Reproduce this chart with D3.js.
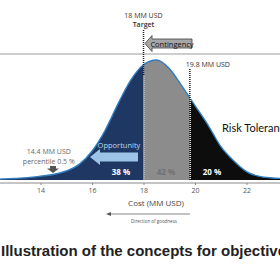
<!DOCTYPE html>
<html>
<head>
<meta charset="utf-8">
<script src="https://cdn.jsdelivr.net/npm/d3@7"></script>
<style>
  body { margin: 0; background: #fff; }
  svg { display: block; font-family: "Open Sans", "DejaVu Sans", sans-serif; }
</style>
</head>
<body>
<div id="chart"></div>
<script>
// cost values (MM USD) and relative density
const cost = [12, 12.5, 13, 13.5, 14, 14.5, 15, 15.5, 16, 16.5, 17, 17.5, 18, 18.5, 19, 19.5, 20, 20.5, 21, 21.5, 22, 22.5, 23, 23.5, 24];
const density = [0.004, 0.008, 0.013, 0.02, 0.032, 0.046, 0.075, 0.13, 0.24, 0.41, 0.63, 0.83, 0.96, 1.0, 0.93, 0.78, 0.62, 0.46, 0.28, 0.16, 0.07, 0.03, 0.017, 0.012, 0.01];
const xTicks = [14, 16, 18, 20, 22];
const target = 18;
const riskLimit = 19.8;
const lowLimit = 14.4;
const shares = ["38 %", "42 %", "20 %"];

const W = 280, H = 280;
const base = 180;

const svg = d3.select("#chart").append("svg")
    .attr("width", W)
    .attr("height", H);

const x = d3.scaleLinear()
    .domain([18 - 143.5 / 25.75, 18 + (W - 143.5) / 25.75])
    .range([0, W]);

const y = d3.scaleLinear()
    .domain([0, 1])
    .range([base, 60]);

const data = cost.map((c, i) => ({ c: c, h: density[i] }));

const area = d3.area()
    .x(d => x(d.c))
    .y0(base)
    .y1(d => y(d.h))
    .curve(d3.curveMonotoneX);

const line = d3.line()
    .x(d => x(d.c))
    .y(d => y(d.h))
    .curve(d3.curveMonotoneX);

// top separator line
svg.append("line")
    .attr("x1", 0).attr("x2", W)
    .attr("y1", 54).attr("y2", 54)
    .style("stroke", "#9a9a9a")
    .style("stroke-width", 1);

// three shaded regions
const regions = [
    { from: 11, to: target, fill: "#1f3763" },
    { from: target, to: riskLimit, fill: "#8c8c8c" },
    { from: riskLimit, to: 25, fill: "#0d0d0d" }
];
const defs = svg.append("defs");
regions.forEach((r, i) => {
    defs.append("clipPath").attr("id", "clip" + i)
        .append("rect")
        .attr("x", x(r.from))
        .attr("y", 0)
        .attr("width", x(r.to) - x(r.from))
        .attr("height", H);
    svg.append("path")
        .datum(data)
        .attr("clip-path", `url(#clip${i})`)
        .attr("d", area)
        .style("fill", r.fill);
});

// curve outline
svg.append("path")
    .datum(data)
    .attr("d", line)
    .style("fill", "none")
    .style("stroke", "#2f7dc0")
    .style("stroke-width", 1.4);

// dotted vertical markers
function marker(v, top) {
    svg.append("line")
        .attr("x1", x(v)).attr("x2", x(v))
        .attr("y1", top).attr("y2", base)
        .style("stroke", "#222")
        .style("stroke-width", 1.5)
        .style("stroke-dasharray", "1,1");
    svg.append("line")
        .attr("x1", x(v) + 0.5).attr("x2", x(v) + 0.5)
        .attr("y1", 75).attr("y2", base)
        .style("stroke", "#fff")
        .style("stroke-width", 1)
        .style("stroke-dasharray", "1,1")
        .style("stroke-dashoffset", 1);
}
marker(target, 30);
marker(riskLimit, 69);

// axis
const axis = svg.append("g")
    .attr("transform", `translate(0,${base + 3})`)
    .call(d3.axisBottom(x).tickValues(xTicks).tickSize(2).tickPadding(3));
axis.select(".domain").attr("d", `M0,0H${W}`).style("stroke", "#8a8a8a");
axis.selectAll(".tick line").style("stroke", "#8a8a8a");
axis.selectAll("text")
    .style("font-size", "7px")
    .style("fill", "#555")
    .style("font-family", "'Open Sans', sans-serif");

svg.append("text")
    .attr("x", 156).attr("y", 206)
    .attr("text-anchor", "middle")
    .style("font-size", "8px")
    .style("fill", "#444")
    .text("Cost (MM USD)");

// direction of goodness arrow
svg.append("line")
    .attr("x1", 110).attr("x2", 190)
    .attr("y1", 214).attr("y2", 214)
    .style("stroke", "#555")
    .style("stroke-width", 0.7);
svg.append("path")
    .attr("d", "M106,214 L111,212 L111,216 Z")
    .style("fill", "#555");
svg.append("text")
    .attr("x", 154).attr("y", 222.5)
    .attr("text-anchor", "middle")
    .style("font-size", "4.5px")
    .style("fill", "#555")
    .text("Direction of goodness");

// target labels
svg.append("text")
    .attr("x", x(target)).attr("y", 17.5)
    .attr("text-anchor", "middle")
    .style("font-size", "7px")
    .style("fill", "#333")
    .text("18 MM USD");
svg.append("text")
    .attr("x", x(target)).attr("y", 27)
    .attr("text-anchor", "middle")
    .style("font-size", "7px")
    .style("font-weight", "600")
    .style("fill", "#333")
    .text("Target");

// contingency arrow
svg.append("path")
    .attr("d", "M145,43.5 L152,35.5 L152,39 L192,39 L192,48 L152,48 L152,51.5 Z")
    .style("fill", "#a6a6a6")
    .style("stroke", "#404040")
    .style("stroke-width", 0.8);
svg.append("text")
    .attr("x", 172).attr("y", 46.5)
    .attr("text-anchor", "middle")
    .style("font-size", "7.5px")
    .style("fill", "#111")
    .text("Contingency");

svg.append("text")
    .attr("x", x(riskLimit) - 4).attr("y", 67)
    .style("font-size", "7px")
    .style("fill", "#333")
    .text("19.8 MM USD");

svg.append("text")
    .attr("x", 222).attr("y", 132)
    .style("font-family", "Lato, 'Open Sans', sans-serif")
    .style("font-size", "11px")
    .style("fill", "#111")
    .text("Risk Tolerance");

// low percentile label
svg.append("text")
    .attr("x", x(lowLimit) - 2).attr("y", 154)
    .attr("text-anchor", "middle")
    .style("font-size", "7px")
    .style("fill", "#666")
    .text("14.4 MM USD");
svg.append("text")
    .attr("x", x(lowLimit) - 2).attr("y", 164)
    .attr("text-anchor", "middle")
    .style("font-size", "7px")
    .style("fill", "#666")
    .text("percentile 0.5 %");
svg.append("path")
    .attr("d", "M50,166 L56,166 L56,168.5 L59,168.5 L53,173 L47,168.5 L50,168.5 Z")
    .style("fill", "#555");

// opportunity arrow
svg.append("text")
    .attr("x", 119).attr("y", 148)
    .attr("text-anchor", "middle")
    .style("font-size", "7.5px")
    .style("fill", "#bdd7ee")
    .text("Opportunity");
svg.append("path")
    .attr("d", "M90,157 L100,149 L100,152.5 L138,152.5 L138,161.5 L100,161.5 L100,165 Z")
    .style("fill", "#9dc3e6");

// share labels
const shareX = [121, 166, 212];
const shareFill = ["#fff", "#707070", "#fff"];
svg.selectAll(".share")
    .data(shares)
    .enter()
    .append("text")
    .attr("class", "share")
    .attr("x", (d, i) => shareX[i])
    .attr("y", 175)
    .attr("text-anchor", "middle")
    .style("font-size", "8px")
    .style("font-weight", "bold")
    .style("fill", (d, i) => shareFill[i])
    .text(d => d);

// caption
svg.append("text")
    .attr("x", 1).attr("y", 256)
    .style("font-family", "'Liberation Sans', Arial, sans-serif")
    .style("font-size", "15px")
    .style("font-weight", "bold")
    .style("fill", "#222")
    .text("Illustration of the concepts for objectives");
</script>
</body>
</html>
